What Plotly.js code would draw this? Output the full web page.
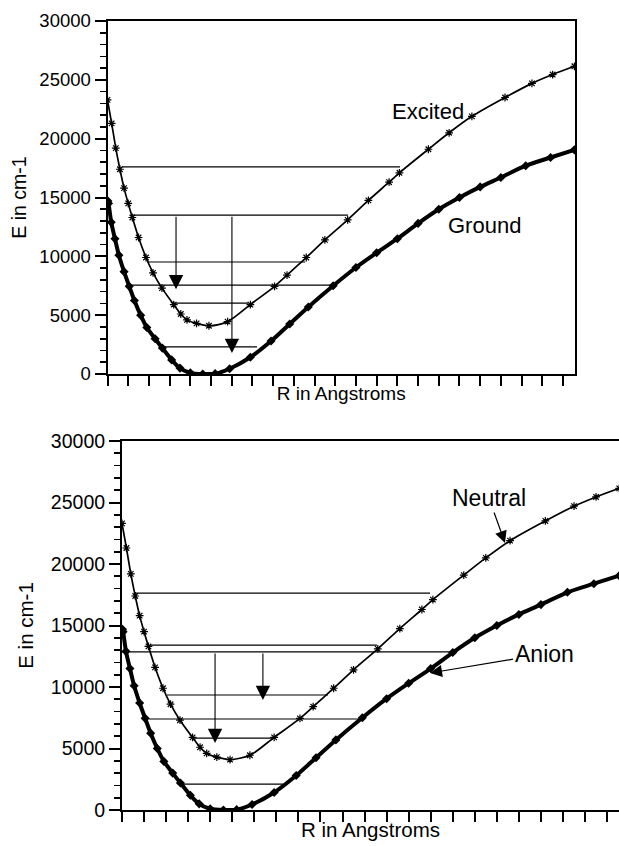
<!DOCTYPE html>
<html>
<head>
<meta charset="utf-8">
<script src="https://cdn.plot.ly/plotly-3.0.1.min.js"></script>
<style>html,body{margin:0;padding:0;background:#fff;}#chart{width:619px;height:846px;}</style>
</head>
<body>
<div id="chart"></div>
<script>
// ---- Data (R in tick units, E in cm-1) ----
const R_upper = [0, 0.2, 0.4, 0.6, 0.8, 1.0, 1.2, 1.5, 1.86, 2.2, 2.63, 3.2, 3.54, 3.84, 4.3, 4.9, 5.8, 6.9, 8.07, 8.67, 9.6, 10.5, 11.6, 12.6, 13.6, 14.1, 15.5, 16.5, 17.6, 19.2, 20.5, 21.5, 22.55];
const E_upper = [23300, 21300, 19200, 17400, 15800, 14500, 13300, 11600, 9900, 8600, 7300, 5900, 5100, 4600, 4300, 4100, 4450, 5900, 7450, 8400, 9900, 11400, 13100, 14750, 16300, 17100, 19100, 20500, 21900, 23500, 24700, 25450, 26150];

const R_lower = [0.02, 0.05, 0.18, 0.36, 0.55, 0.8, 1.05, 1.3, 1.6, 1.9, 2.3, 2.65, 3.1, 3.5, 4.0, 4.6, 5.2, 5.9, 6.9, 7.9, 8.8, 9.7, 10.9, 12.0, 13.0, 14.0, 15.0, 16.0, 17.0, 18.0, 19.0, 20.2, 21.4, 22.55];
const E_lower = [14700, 14500, 12900, 11500, 10100, 8700, 7450, 6250, 5000, 3950, 3000, 2200, 1200, 500, 100, 0, 30, 450, 1420, 2800, 4250, 5700, 7500, 9050, 10300, 11500, 12800, 14000, 15000, 15900, 16700, 17700, 18400, 19050];

// vibrational levels, top panel
const lvlTopE  = [17600, 13500, 9520, 7560, 6030, 2300];
const lvlTopR0 = [0.70, 1.23, 1.91, 1.18, 3.16, 2.54];
const lvlTopR1 = [14.13, 11.62, 9.55, 10.89, 6.79, 7.22];
// vibrational levels, bottom panel
const lvlBotE  = [17640, 13410, 12850, 9350, 7400, 5850, 2110];
const lvlBotR0 = [0.59, 1.27, 0.0, 2.04, 1.22, 3.22, 2.77];
const lvlBotR1 = [13.97, 11.56, 15.01, 9.34, 11.02, 6.94, 7.3];

// transition arrows
const arrTopR = [3.31, 6.01], arrTopFrom = [13500, 13500], arrTopTo = [7200, 1780];
const arrBotR = [4.22, 6.39], arrBotFrom = [12850, 12850], arrBotTo = [5450, 8940];

// labels
const topLabels = ['Excited', 'Ground'], topLabR = [15.48, 18.19], topLabE = [22300, 12660];
const botLabels = ['Neutral', 'Anion'], botLabR = [16.64, 19.14], botLabE = [25370, 12680];
const botTipR = [17.37, 13.97], botTipE = [21710, 11140];

// axis ticks
const majorStep = 5000, minorStep = 1000, xStep = 1;

// ---- Build ----
const FONT = 'Liberation Sans, Arial, Helvetica, sans-serif';
const W = 619, H = 846;

function curves(xa, ya) {
  return [
    {x: R_upper, y: E_upper, xaxis: xa, yaxis: ya, mode: 'lines+markers', type: 'scatter',
     line: {color: 'black', width: 1.7, shape: 'spline', smoothing: 0.8},
     marker: {symbol: 'asterisk-open', size: 6.5, color: 'black', line: {color: 'black', width: 1.2}}},
    {x: R_lower, y: E_lower, xaxis: xa, yaxis: ya, mode: 'lines+markers', type: 'scatter',
     line: {color: 'black', width: 4, shape: 'spline', smoothing: 0.8},
     marker: {symbol: 'diamond', size: 7, color: 'black'}}
  ];
}
function levels(E, R0, R1, xa, ya) {
  const xs = [], ys = [];
  for (let i = 0; i < E.length; i++) { xs.push(R0[i], R1[i], null); ys.push(E[i], E[i], null); }
  return {x: xs, y: ys, xaxis: xa, yaxis: ya, mode: 'lines', type: 'scatter',
          line: {color: 'black', width: 1.2}};
}

const data = [
  levels(lvlTopE, lvlTopR0, lvlTopR1, 'x', 'y'),
  ...curves('x', 'y'),
  levels(lvlBotE, lvlBotR0, lvlBotR1, 'x2', 'y2'),
  ...curves('x2', 'y2')
];

const annotations = [];
for (let i = 0; i < arrTopR.length; i++) {
  annotations.push({xref: 'x', yref: 'y', axref: 'x', ayref: 'y', x: arrTopR[i], y: arrTopTo[i],
    ax: arrTopR[i], ay: arrTopFrom[i], text: '', showarrow: true, arrowhead: 2, arrowsize: 2.6,
    arrowwidth: 1.1, arrowcolor: 'black', standoff: 0});
}
for (let i = 0; i < arrBotR.length; i++) {
  annotations.push({xref: 'x2', yref: 'y2', axref: 'x2', ayref: 'y2', x: arrBotR[i], y: arrBotTo[i],
    ax: arrBotR[i], ay: arrBotFrom[i], text: '', showarrow: true, arrowhead: 2, arrowsize: 2.6,
    arrowwidth: 1.1, arrowcolor: 'black', standoff: 0});
}
for (let i = 0; i < topLabels.length; i++) {
  annotations.push({xref: 'x', yref: 'y', x: topLabR[i], y: topLabE[i], text: topLabels[i],
    showarrow: false, font: {family: FONT, size: 22, color: 'black'}, xanchor: 'center', yanchor: 'middle'});
}
for (let i = 0; i < botLabels.length; i++) {
  annotations.push({xref: 'x2', yref: 'y2', axref: 'x2', ayref: 'y2', x: botTipR[i], y: botTipE[i],
    ax: botLabR[i], ay: botLabE[i], text: botLabels[i], showarrow: true, arrowhead: 2, arrowsize: 2,
    arrowwidth: 1.2, arrowcolor: 'black', standoff: 0,
    font: {family: FONT, size: 23, color: 'black'}});
}

function xAxis(domain, range, anchor, tsize) {
  return {domain: domain, range: range, anchor: anchor, showline: true, linewidth: 2, linecolor: 'black',
    mirror: true, ticks: 'outside', ticklen: 10, tickwidth: 2, tickcolor: 'black', dtick: xStep, tick0: 0,
    showticklabels: false, showgrid: false, zeroline: false, fixedrange: true,
    title: {text: 'R in Angstroms', font: {family: FONT, size: tsize, color: 'black'}, standoff: 2}};
}
function yAxis(domain, anchor, mirror, fsize, tsize, standoff) {
  return {domain: domain, range: [0, 30000], anchor: anchor, showline: true, linewidth: 2, linecolor: 'black',
    mirror: mirror, ticks: 'outside', ticklen: 11, tickwidth: 2, tickcolor: '#000000', dtick: majorStep,
    tickformat: 'd', tickfont: {family: FONT, size: fsize, color: 'black'},
    minor: {dtick: minorStep, ticks: 'outside', ticklen: 6, tickwidth: 1.6, tickcolor: '#000000'},
    showgrid: false, zeroline: false, fixedrange: true,
    title: {text: 'E in cm-1', font: {family: FONT, size: tsize, color: 'black'}, standoff: standoff}};
}

const layout = {
  width: W, height: H, margin: {l: 0, r: 0, t: 0, b: 0, autoexpand: false},
  paper_bgcolor: 'white', plot_bgcolor: 'white', showlegend: false,
  font: {family: FONT, color: 'black'},
  xaxis: xAxis([107.5 / W, 575 / W], [0, 22.58], 'y', 19),
  yaxis: yAxis([1 - 374 / H, 1 - 21 / H], 'x', true, 18.5, 19.5, 8),
  xaxis2: xAxis([122 / W, 1], [0, 22.54], 'y2', 20.5),
  yaxis2: yAxis([1 - 810 / H, 1 - 441 / H], 'x2', false, 19.5, 20.5, 12),
  annotations: annotations
};

Plotly.newPlot('chart', data, layout, {staticPlot: true, displayModeBar: false});
</script>
</body>
</html>
